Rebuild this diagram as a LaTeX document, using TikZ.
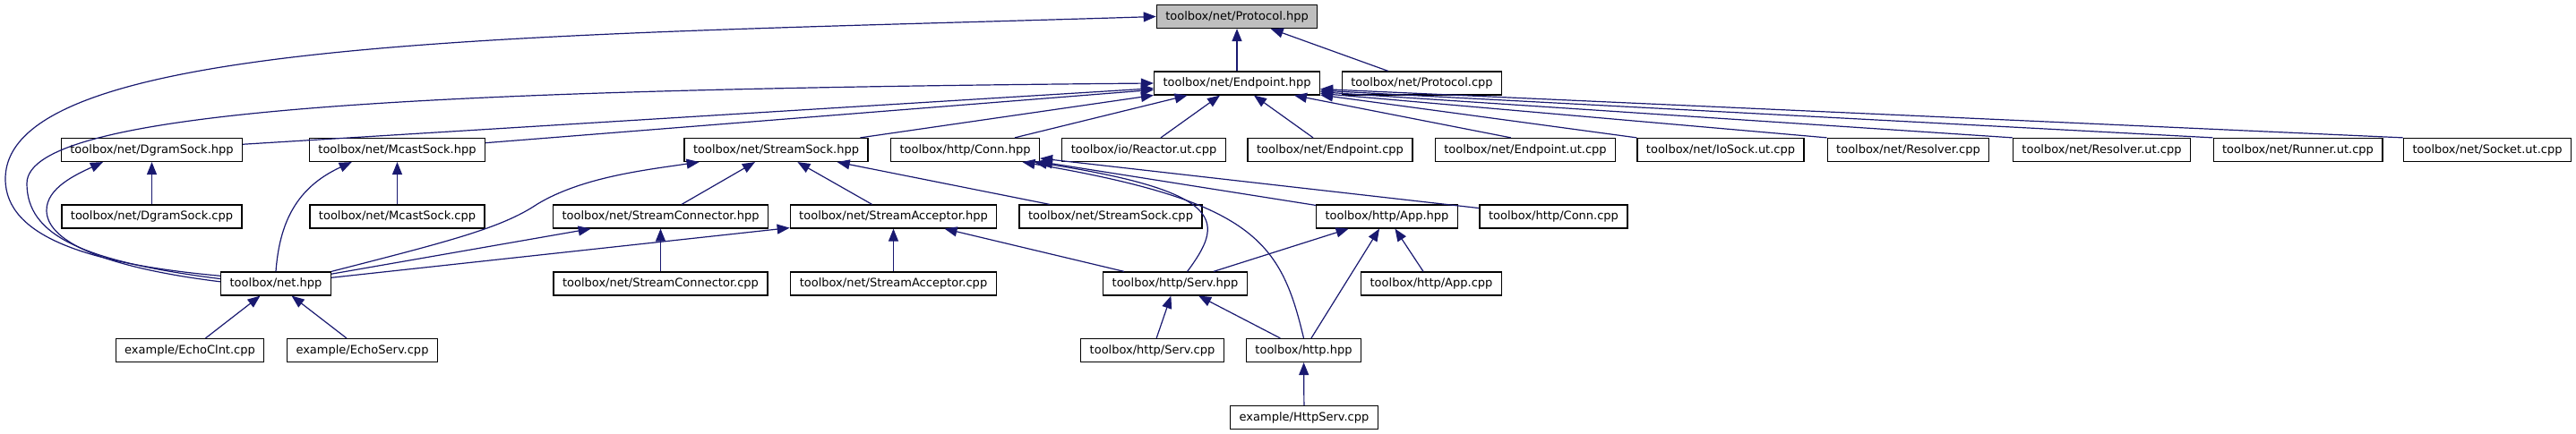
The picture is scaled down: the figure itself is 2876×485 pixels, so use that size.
\documentclass[tikz,border=0pt]{standalone}
\usepackage{fontspec}
\setmainfont{DejaVu Sans}
\usetikzlibrary{arrows.meta}
\definecolor{EdgeColor}{RGB}{25,25,112}
\definecolor{RootColor}{RGB}{191,191,191}

\begin{document}
\begin{tikzpicture}[x=0.5pt,y=-0.5pt,
  filebox/.style={draw=black,fill=white,line width=0.6pt,minimum height=13pt,
                  inner xsep=5pt,inner ysep=0pt,font=\fontsize{6.5pt}{7.8pt}\selectfont},
  incl/.style={draw=EdgeColor,line width=0.6pt,-{Triangle[length=7pt,width=5.5pt]}}]
\useasboundingbox (0,0) rectangle (2876,485);
% rows
\node[filebox,fill=RootColor] (proto) at (1381,18.5) {toolbox/net/Protocol.hpp};
\node[filebox] (endp) at (1381,93) {toolbox/net/Endpoint.hpp};
\node[filebox] (protocpp) at (1587.5,93) {toolbox/net/Protocol.cpp};
\node[filebox] (dgram) at (169.5,167.5) {toolbox/net/DgramSock.hpp};
\node[filebox] (mcast) at (443.5,167.5) {toolbox/net/McastSock.hpp};
\node[filebox] (streamsock) at (866.5,167.5) {toolbox/net/StreamSock.hpp};
\node[filebox] (conn) at (1077.5,167.5) {toolbox/http/Conn.hpp};
\node[filebox] (reactor) at (1277,167.5) {toolbox/io/Reactor.ut.cpp};
\node[filebox] (endpcpp) at (1485,167.5) {toolbox/net/Endpoint.cpp};
\node[filebox] (endput) at (1703,167.5) {toolbox/net/Endpoint.ut.cpp};
\node[filebox] (iosock) at (1921,167.5) {toolbox/net/IoSock.ut.cpp};
\node[filebox] (resolver) at (2130.5,167.5) {toolbox/net/Resolver.cpp};
\node[filebox] (resolverut) at (2346.5,167.5) {toolbox/net/Resolver.ut.cpp};
\node[filebox] (runner) at (2565.5,167.5) {toolbox/net/Runner.ut.cpp};
\node[filebox] (socket) at (2777,167.5) {toolbox/net/Socket.ut.cpp};
\node[filebox] (dgramcpp) at (169.5,242) {toolbox/net/DgramSock.cpp};
\node[filebox] (mcastcpp) at (443.5,242) {toolbox/net/McastSock.cpp};
\node[filebox] (connector) at (737.5,242) {toolbox/net/StreamConnector.hpp};
\node[filebox] (acceptor) at (997.5,242) {toolbox/net/StreamAcceptor.hpp};
\node[filebox] (streamsockcpp) at (1240,242) {toolbox/net/StreamSock.cpp};
\node[filebox] (app) at (1548.5,242) {toolbox/http/App.hpp};
\node[filebox] (conncpp) at (1734.5,242) {toolbox/http/Conn.cpp};
\node[filebox] (net) at (308,317) {toolbox/net.hpp};
\node[filebox] (connectorcpp) at (737.5,317) {toolbox/net/StreamConnector.cpp};
\node[filebox] (acceptorcpp) at (997.5,317) {toolbox/net/StreamAcceptor.cpp};
\node[filebox] (serv) at (1312,317) {toolbox/http/Serv.hpp};
\node[filebox] (appcpp) at (1598,317) {toolbox/http/App.cpp};
\node[filebox] (echoclnt) at (212,391.5) {example/EchoClnt.cpp};
\node[filebox] (echoserv) at (404.5,391.5) {example/EchoServ.cpp};
\node[filebox] (servcpp) at (1286.5,391.5) {toolbox/http/Serv.cpp};
\node[filebox] (http) at (1455.5,391.5) {toolbox/http.hpp};
\node[filebox] (httpserv) at (1456,466.5) {example/HttpServ.cpp};
% includes
\draw[incl] (endp) -- (proto);
\draw[incl] (protocpp) -- (proto);
\draw[incl] (net.172) .. controls (100,295) and (6,265) .. (6,200) .. controls (6,40) and (600,40) .. (proto.west);
\draw[incl] (net.175) .. controls (90,292) and (30,262) .. (30,205) .. controls (30,120) and (500,100) .. (endp.west);
\draw[incl] (net.178) .. controls (110,298) and (52,268) .. (52,235) .. controls (52,210) and (85,195) .. (dgram.194);
\draw[incl] (net.north) .. controls (312,250) and (330,210) .. (mcast.195);
\draw[incl] (net.north east) .. controls (500,270) and (560,255) .. (600,228) .. controls (650,198) and (720,190) .. (streamsock.189);
\draw[incl] (dgram) -- (endp);
\draw[incl] (mcast) -- (endp);
\draw[incl] (streamsock) -- (endp);
\draw[incl] (conn) -- (endp);
\draw[incl] (reactor) -- (endp);
\draw[incl] (endpcpp) -- (endp);
\draw[incl] (endput.140) -- (endp.-12);
\draw[incl] (iosock.north west) -- (endp.-8.5);
\draw[incl] (resolver.north west) -- (endp.-7.5);
\draw[incl] (resolverut.north west) -- (endp.-6.5);
\draw[incl] (runner.north west) -- (endp.-5.5);
\draw[incl] (socket.north west) -- (endp.-4.5);
\draw[incl] (dgramcpp) -- (dgram);
\draw[incl] (mcastcpp) -- (mcast);
\draw[incl] (connector) -- (streamsock);
\draw[incl] (acceptor) -- (streamsock);
\draw[incl] (streamsockcpp) -- (streamsock);
\draw[incl] (net) -- (connector);
\draw[incl] (net) -- (acceptor);
\draw[incl] (connectorcpp) -- (connector);
\draw[incl] (acceptorcpp) -- (acceptor);
\draw[incl] (serv) -- (acceptor);
\draw[incl] (serv.45) .. controls (1365,250) and (1375,215) .. (conn.350);
\draw[incl] (http.north) .. controls (1430,270) and (1400,225) .. (conn.348);
\draw[incl] (app) -- (conn);
\draw[incl] (conncpp) -- (conn);
\draw[incl] (serv) -- (app);
\draw[incl] (http) -- (app);
\draw[incl] (appcpp) -- (app);
\draw[incl] (servcpp) -- (serv);
\draw[incl] (http) -- (serv);
\draw[incl] (httpserv) -- (http);
\draw[incl] (echoclnt) -- (net);
\draw[incl] (echoserv) -- (net);
\end{tikzpicture}
\end{document}
